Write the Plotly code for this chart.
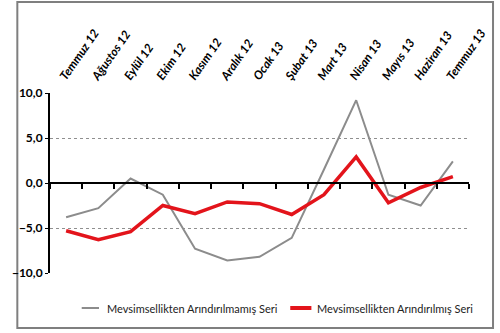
import plotly.graph_objects as go

months = ["Temmuz 12", "Ağustos 12", "Eylül 12", "Ekim 12", "Kasım 12", "Aralık 12",
          "Ocak 13", "Şubat 13", "Mart 13", "Nisan 13", "Mayıs 13", "Haziran 13", "Temmuz 13"]
raw_series = [-3.8, -2.8, 0.5, -1.3, -7.3, -8.6, -8.2, -6.1, 1.5, 9.2, -1.3, -2.5, 2.4]
adjusted_series = [-5.3, -6.3, -5.4, -2.5, -3.4, -2.1, -2.3, -3.5, -1.3, 2.9, -2.2, -0.5, 0.7]
raw_name = "Mevsimsellikten Arındırılmamış Seri"
adjusted_name = "Mevsimsellikten Arındırılmış Seri"
y_ticks = [-10, -5, 0, 5, 10]

FONT = "Lato"
GRAY = "#8c8c8c"
RED = "#e3141b"
W, H = 500, 333
L, R, T, B = 36, 28, 93, 60
pw, ph = W - L - R, H - T - B


def px_x(v):
    return (v - L) / pw


def px_y(v):
    return (H - B - v) / ph


fig = go.Figure()
# unadjusted series on the labelled (top) axis
fig.add_trace(go.Scatter(
    x=months, y=raw_series, mode="lines", name=raw_name,
    line=dict(color=GRAY, width=2), xaxis="x", yaxis="y",
))
# adjusted series on the zero-line axis that carries the boundary ticks
fig.add_trace(go.Scatter(
    x=months, y=adjusted_series, mode="lines", name=adjusted_name,
    line=dict(color=RED, width=3.5), xaxis="x2", yaxis="y",
))

# hand-built legend row under the plot
legend_y = px_y(308)
shapes = [
    dict(type="rect", xref="paper", yref="paper",
         x0=px_x(2), x1=px_x(497), y0=px_y(328), y1=px_y(2),
         line=dict(color="#7f7f7f", width=2), fillcolor="rgba(0,0,0,0)", layer="below"),
    dict(type="line", xref="paper", yref="paper",
         x0=px_x(69), x1=px_x(87), y0=legend_y, y1=legend_y,
         line=dict(color=GRAY, width=2)),
    dict(type="line", xref="paper", yref="paper",
         x0=px_x(286), x1=px_x(308), y0=legend_y, y1=legend_y,
         line=dict(color=RED, width=4)),
]
annotations = [
    dict(text=raw_name, xref="paper", yref="paper", x=px_x(94), y=legend_y,
         xanchor="left", yanchor="middle", showarrow=False, borderpad=0,
         font=dict(family=FONT, size=11, color="#222")),
    dict(text=adjusted_name, xref="paper", yref="paper", x=px_x(313), y=legend_y,
         xanchor="left", yanchor="middle", showarrow=False, borderpad=0,
         font=dict(family=FONT, size=11, color="#222")),
]

fig.update_layout(
    width=W, height=H,
    margin=dict(l=L, r=R, t=T, b=B),
    paper_bgcolor="white", plot_bgcolor="white",
    separators=",.",
    showlegend=False,
    xaxis=dict(
        type="category", categoryorder="array", categoryarray=months,
        range=[-0.5, 12.5], side="top",
        showline=False, showgrid=False, zeroline=False, ticks="",
        tickangle=-55, ticklabelstandoff=6, ticklabelshift=-5,
        tickfont=dict(family=FONT, size=12, color="black", weight="bold", style="italic"),
    ),
    xaxis2=dict(
        type="category", categoryorder="array", categoryarray=months,
        overlaying="x", anchor="free", position=0.5, side="bottom",
        range=[-0.5, 12.5],
        showline=True, linecolor="black", linewidth=2,
        tickson="boundaries", ticks="outside", ticklen=5,
        tickcolor="black", tickwidth=1.5, showticklabels=False, showgrid=False,
        zeroline=False,
    ),
    yaxis=dict(
        range=[-10, 10], tickvals=y_ticks, tickformat=".1f",
        showline=True, linecolor="black", linewidth=2,
        ticks="outside", ticklen=3, tickcolor="black",
        showgrid=True, gridcolor="#8f8f8f", gridwidth=1, griddash="3px,3px",
        zeroline=False,
        tickfont=dict(family=FONT, size=12, color="black", weight="bold"),
    ),
    shapes=shapes,
    annotations=annotations,
)

fig.write_html("out.html")
